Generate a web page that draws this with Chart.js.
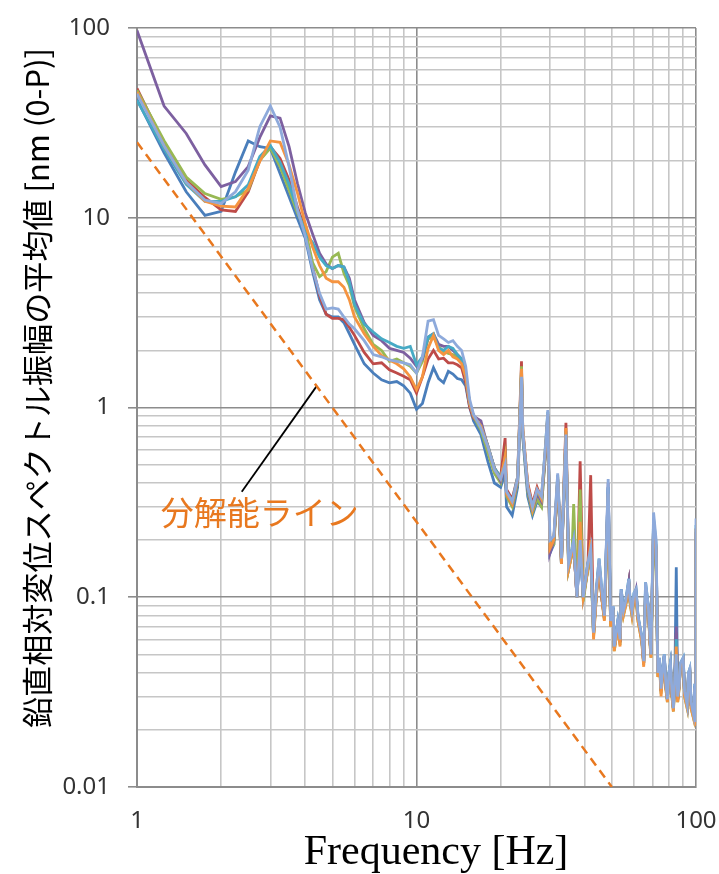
<!DOCTYPE html>
<html lang="ja">
<head>
  <meta charset="UTF-8">
  <title>鉛直相対変位スペクトル</title>
  <style>
    html, body { margin: 0; padding: 0; background: #fff; }
    #wrap { width: 719px; height: 874px; }
  </style>
</head>
<body>
<div id="wrap">
  <canvas id="myChart" width="719" height="874"></canvas>
</div>

<script src="https://cdn.jsdelivr.net/npm/chart.js"></script>

<script>
  // frequencies [Hz]
  const freq = [1,1.25,1.5,1.75,2,2.25,2.5,2.75,3,3.25,3.5,3.75,4,4.25,4.5,4.75,5,5.25,5.5,5.75,6,
    6.5,7,7.5,8,8.5,9,9.5,10,10.5,11,11.5,12,12.5,13,13.5,14,14.5,15,15.5,16,
    17,18,19,20,20.75,21,22,23,23.75,24,25,26,27,28,29,29.5,30,31,32,33,34.25,35,36,36.5,37.5,38.5,39.5,
    41,42,43,44,45,46,47,48.5,49.5,50.5,51,52.5,53.5,54,55,56,57.5,58,59,60,61,62,63,64,65,
    66,67.5,68.5,69,70.5,72,73,74,75,76,77,78,79,80,81,82,83,84,85,86,87,88,90,91,93,94,95,96,98,99,99.75,100];

  // amplitude [nm], one array per series
  const s1 = [42,22,13.7,10.3,10.8,17.4,25.4,23.7,23.2,17.1,12.9,9.9,7.8,5.2,3.7,3.1,3.0,3.0,2.8,2.45,2.15,
    1.7,1.52,1.40,1.35,1.37,1.30,1.19,0.98,1.05,1.35,1.62,1.42,1.35,1.55,1.5,1.42,1.4,1.3,1.0,0.85,
    0.72,0.52,0.4,0.38, 0.45,0.3,0.27,0.38, 1.4,0.7,0.34,0.27, 0.32,0.3,0.6,0.9, 0.17,0.19,0.42,0.15,
    0.7,0.14,0.17,0.19, 0.1,0.19,0.1,
    0.14,0.17,0.063,0.105,0.15, 0.1,0.078,0.38,0.072,0.088, 0.054,0.073,0.058,0.105,0.082,
    0.092,0.12,0.097,0.083,0.1, 0.105,0.078,0.068,0.06,0.045, 0.115,0.088,0.058,0.05,0.25,
    0.18,0.04,0.046,0.032,0.041, 0.049,0.034,0.029,0.039,0.044, 0.031,0.026,0.037,0.144,0.029,
    0.034,0.044,0.047,0.031,0.027, 0.039,0.041,0.027,0.024,0.034, 0.022,0.23];
  const s2 = [48,24.5,15.8,12.8,11.0,10.8,13.7,20.1,23.7,20.5,15.8,11.4,8.6,5.5,3.9,3.1,2.95,2.95,2.9,2.65,2.4,
    1.95,1.7,1.72,1.58,1.52,1.46,1.40,1.19,1.45,1.8,2.0,1.8,1.82,1.72,1.72,1.68,1.62,1.35,1.0,0.88,
    0.8,0.63,0.48,0.43, 0.69,0.37,0.33,0.43, 1.75,0.76,0.4,0.31, 0.38,0.33,0.6,0.9, 0.19,0.2,0.4,0.16,
    0.83,0.15,0.17,0.19, 0.1,0.52,0.1,
    0.14,0.44,0.064,0.105,0.15, 0.1,0.078,0.3,0.072,0.088, 0.054,0.072,0.058,0.105,0.083,
    0.092,0.12,0.097,0.083,0.1, 0.105,0.078,0.068,0.06,0.045, 0.11,0.088,0.058,0.05,0.22,
    0.17,0.04,0.047,0.032,0.041, 0.049,0.034,0.029,0.039,0.044, 0.031,0.026,0.037,0.065,0.029,
    0.034,0.044,0.046,0.031,0.027, 0.039,0.041,0.027,0.024,0.034, 0.022,0.2];
  const s3 = [47,25.5,16.4,13.4,12.5,12.9,14.0,20.1,23.3,18.6,14.0,10.6,8.6,5.8,4.9,5.2,6.2,6.5,5.1,4.4,3.4,
    2.6,2.15,2.0,1.75,1.8,1.72,1.65,1.52,1.75,2.3,2.35,2.1,1.97,1.93,1.9,1.85,1.78,1.45,1.05,0.9,
    0.76,0.58,0.45,0.4, 0.55,0.34,0.3,0.4, 1.65,0.72,0.36,0.28, 0.33,0.3,0.6,0.9, 0.18,0.19,0.4,0.15,
    0.7,0.14,0.17,0.31, 0.1,0.37,0.095,
    0.14,0.16,0.062,0.1,0.15, 0.1,0.076,0.28,0.07,0.085, 0.052,0.07,0.056,0.1,0.08,
    0.09,0.115,0.094,0.08,0.098, 0.1,0.075,0.066,0.058,0.044, 0.1,0.085,0.056,0.048,0.2,
    0.15,0.038,0.045,0.031,0.04, 0.047,0.033,0.028,0.038,0.042, 0.03,0.025,0.036,0.06,0.028,
    0.033,0.043,0.045,0.03,0.026, 0.038,0.04,0.026,0.023,0.033, 0.021,0.2];
  const s4 = [97,38.8,27.8,19.0,14.6,15.5,18.6,26.5,34.4,33.5,23.7,15.2,10.6,8.2,6.5,5.7,5.4,5.6,5.5,4.8,3.7,
    2.8,2.4,2.25,2.05,2.0,1.95,1.82,1.65,1.8,2.35,2.45,2.15,2.1,2.1,2.0,1.9,1.8,1.45,1.05,0.9,
    0.85,0.62,0.48,0.41, 0.48,0.35,0.31,0.41, 1.5,0.74,0.37,0.29, 0.35,0.32,0.62,0.92, 0.17,0.2,0.42,0.15,
    0.7,0.15,0.17,0.19, 0.1,0.19,0.1,
    0.15,0.17,0.064,0.105,0.15, 0.1,0.08,0.4,0.074,0.088, 0.054,0.074,0.058,0.11,0.084,
    0.093,0.12,0.098,0.084,0.1, 0.11,0.078,0.068,0.06,0.045, 0.11,0.09,0.058,0.05,0.24,
    0.18,0.04,0.047,0.032,0.041, 0.049,0.034,0.029,0.039,0.044, 0.031,0.026,0.037,0.07,0.029,
    0.034,0.044,0.047,0.031,0.027, 0.039,0.041,0.027,0.024,0.034, 0.022,0.22];
  const s5 = [41.5,23,15.0,12.2,12.2,12.9,14.9,21.0,24.0,19.6,15.0,11.0,8.3,7.4,6.2,5.6,5.4,5.6,5.5,4.6,3.5,
    2.75,2.5,2.3,2.2,2.1,2.05,2.1,1.68,1.85,2.35,2.45,2.05,2.0,2.1,2.05,1.9,1.8,1.45,1.05,0.9,
    0.8,0.63,0.48,0.43, 0.52,0.36,0.32,0.43, 1.55,0.75,0.38,0.3, 0.36,0.33,0.66,0.95, 0.19,0.2,0.44,0.16,
    0.75,0.15,0.18,0.2, 0.1,0.2,0.1,
    0.15,0.18,0.065,0.11,0.16, 0.11,0.08,0.38,0.075,0.09, 0.055,0.075,0.06,0.11,0.085,
    0.095,0.125,0.1,0.085,0.105, 0.11,0.08,0.07,0.062,0.046, 0.12,0.09,0.06,0.05,0.26,
    0.19,0.04,0.048,0.033,0.042, 0.05,0.035,0.029,0.04,0.045, 0.032,0.026,0.038,0.06,0.03,
    0.034,0.045,0.048,0.032,0.027, 0.04,0.042,0.028,0.024,0.035, 0.022,0.24];
  const s6 = [46,24,15.4,12.2,11.5,11.4,14.3,19.8,25.4,25.0,19.0,13.5,9.3,7.0,5.6,4.8,4.6,4.6,4.3,3.7,3.0,
    2.45,2.1,1.88,1.78,1.7,1.6,1.45,1.24,1.45,2.05,2.4,2.0,1.9,2.0,1.85,1.8,1.7,1.45,1.05,0.9,
    0.8,0.62,0.47,0.42, 0.55,0.35,0.31,0.42, 1.6,0.78,0.39,0.29, 0.37,0.33,0.64,0.92, 0.18,0.2,0.43,0.15,
    0.78,0.14,0.17,0.19, 0.1,0.25,0.1,
    0.14,0.2,0.06,0.1,0.15, 0.1,0.075,0.35,0.07,0.086, 0.052,0.07,0.055,0.1,0.08,
    0.09,0.12,0.095,0.08,0.098, 0.1,0.075,0.066,0.058,0.043, 0.11,0.086,0.056,0.048,0.25,
    0.18,0.038,0.045,0.03,0.04, 0.047,0.033,0.028,0.038,0.043, 0.03,0.025,0.036,0.055,0.028,
    0.033,0.043,0.046,0.03,0.026, 0.038,0.04,0.026,0.023,0.033, 0.021,0.23];
  const s7 = [45,24,15.4,12.4,11.9,13.7,17.8,30.2,38.8,30.0,18.6,11.0,8.0,5.4,4.0,3.3,3.35,3.3,3.0,2.75,2.6,
    2.25,1.9,1.85,1.78,1.75,1.72,1.68,1.52,1.85,2.85,2.9,2.4,2.3,2.2,2.25,2.1,2.0,1.65,1.1,0.92,
    0.78,0.62,0.47,0.42, 0.5,0.36,0.32,0.42, 1.45,0.75,0.38,0.3, 0.37,0.34,0.65,0.97, 0.2,0.21,0.45,0.16,
    0.72,0.15,0.18,0.2, 0.1,0.2,0.1,
    0.15,0.18,0.065,0.11,0.16, 0.11,0.08,0.42,0.075,0.09, 0.055,0.075,0.06,0.11,0.085,
    0.095,0.125,0.1,0.085,0.105, 0.11,0.08,0.07,0.062,0.046, 0.12,0.09,0.06,0.05,0.28,
    0.2,0.04,0.048,0.033,0.042, 0.05,0.035,0.029,0.04,0.045, 0.032,0.026,0.038,0.05,0.03,
    0.034,0.045,0.048,0.032,0.027, 0.04,0.042,0.028,0.024,0.035, 0.022,0.26];

  // resolution line end points and the pointer line of its label
  const resFreq = [1, 50];
  const resAmp = [25, 0.01];
  const pointerFreq = [2.37, 4.4];
  const pointerAmp = [0.36, 1.3];

  const xTicks = [1,2,3,4,5,6,7,8,9,10,20,30,40,50,60,70,80,90,100];
  const yTicks = [0.01,0.02,0.03,0.04,0.05,0.06,0.07,0.08,0.09,0.1,0.2,0.3,0.4,0.5,0.6,0.7,0.8,0.9,
    1,2,3,4,5,6,7,8,9,10,20,30,40,50,60,70,80,90,100];

  const seriesList = [s1, s2, s3, s4, s5, s6, s7];
  const colors = ['#4a7ebb', '#be4b48', '#98b954', '#7d60a0', '#46aac5', '#f59440', '#8eaadb'];
  const orange = '#e8781f';

  function isMajor(v) {
    const l = Math.log10(v);
    return Math.abs(l - Math.round(l)) < 1e-9;
  }
  function pts(xs, ys) {
    return xs.map((x, i) => ({x: x, y: ys[i]}));
  }

  const datasets = seriesList.map((s, i) => ({
    data: pts(freq, s),
    borderColor: colors[i],
    borderWidth: 2.8,
    pointRadius: 0,
    tension: 0,
    order: 10 - i
  }));
  datasets.push({
    data: pts(resFreq, resAmp),
    borderColor: orange,
    borderWidth: 2.5,
    borderDash: [9, 6],
    pointRadius: 0,
    order: 0
  });
  datasets.push({
    data: pts(pointerFreq, pointerAmp),
    borderColor: '#000',
    borderWidth: 1.8,
    pointRadius: 0,
    order: 0
  });

  const textPlugin = {
    id: 'texts',
    afterDraw(chart) {
      const c = chart.ctx;
      const xs = chart.scales.x, ys = chart.scales.y;
      c.save();
      // label of the resolution line
      c.fillStyle = orange;
      c.font = '33px "Noto Sans CJK JP"';
      c.textAlign = 'center';
      c.textBaseline = 'middle';
      c.fillText('分解能ライン', xs.getPixelForValue(2.75), ys.getPixelForValue(0.28));
      // x title
      c.fillStyle = '#000';
      c.font = '42px "Liberation Serif"';
      c.textBaseline = 'alphabetic';
      c.fillText('Frequency [Hz]', 436, 864);
      // y title
      const yt = '鉛直相対変位スペクトル振幅の平均値 [nm (0-P)]';
      let size = 30;
      c.font = size + 'px "Noto Sans CJK JP"';
      size = size * 680 / c.measureText(yt).width;
      c.font = size.toFixed(1) + 'px "Noto Sans CJK JP"';
      c.translate(37, 388);
      c.rotate(-Math.PI / 2);
      c.textBaseline = 'middle';
      c.fillText(yt, 0, 0);
      c.restore();
    }
  };

  const gridColor = ctx => isMajor(ctx.tick.value) ? '#8c8c8c' : '#c6c6c6';
  const noPad = s => {
    s.paddingLeft = 0; s.paddingRight = 0; s.paddingTop = 0; s.paddingBottom = 0;
  };

  new Chart(document.getElementById('myChart'), {
    type: 'line',
    data: { datasets: datasets },
    options: {
      responsive: false,
      animation: false,
      devicePixelRatio: 1,
      layout: { padding: { left: 0, top: 28, right: 23, bottom: 0 } },
      plugins: { legend: { display: false }, tooltip: { enabled: false } },
      scales: {
        x: {
          type: 'logarithmic',
          min: 1, max: 100,
          afterBuildTicks: s => { s.ticks = xTicks.map(v => ({value: v})); },
          afterFit: s => { s.height = 87; noPad(s); },
          border: { color: '#8c8c8c', width: 2 },
          grid: { color: gridColor, lineWidth: 1.6, drawTicks: false },
          ticks: {
            autoSkip: false, maxRotation: 0, padding: 20,
            color: '#333', font: { family: 'Noto Sans', size: 24 },
            callback: v => isMajor(v) ? String(v) : ''
          }
        },
        y: {
          type: 'logarithmic',
          min: 0.01, max: 100,
          afterBuildTicks: s => { s.ticks = yTicks.map(v => ({value: v})); },
          afterFit: s => { s.width = 137; noPad(s); },
          border: { color: '#8c8c8c', width: 2 },
          grid: {
            color: gridColor, lineWidth: 1.6, tickLength: 9,
            tickColor: ctx => isMajor(ctx.tick.value) ? '#8c8c8c' : 'rgba(0,0,0,0)'
          },
          ticks: {
            autoSkip: false, padding: 18,
            color: '#333', font: { family: 'Noto Sans', size: 24 },
            callback: v => isMajor(v) ? String(v) : ''
          }
        }
      }
    },
    plugins: [textPlugin]
  });
</script>
</body>
</html>
